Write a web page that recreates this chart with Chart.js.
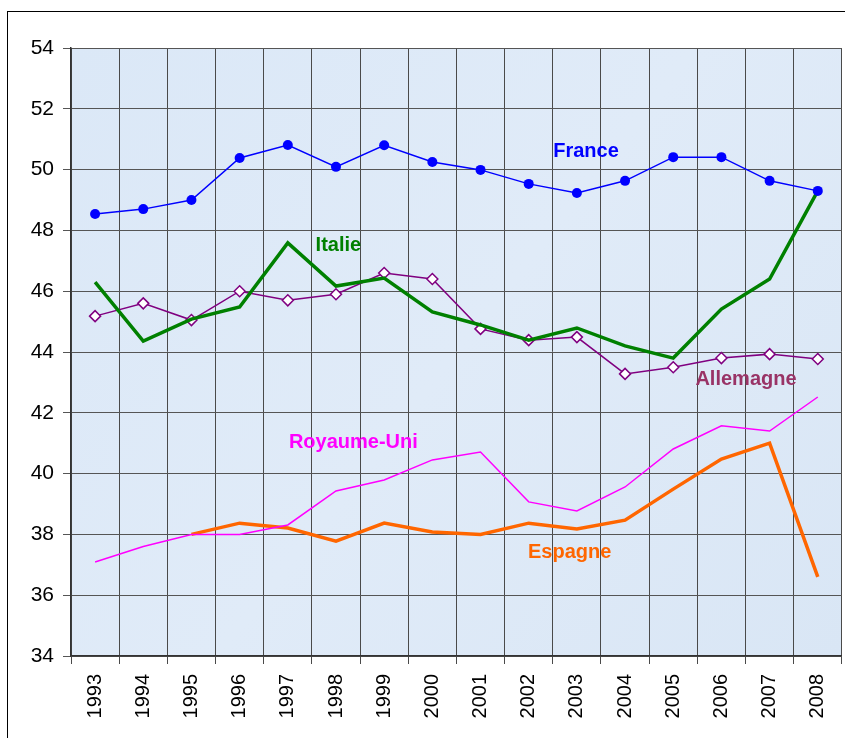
<!DOCTYPE html>
<html>
<head>
<meta charset="utf-8">
<script src="https://cdn.jsdelivr.net/npm/chart.js@4/dist/chart.umd.min.js"></script>
<style>
  html, body { margin: 0; padding: 0; background: #fff; overflow: hidden; }
  #frame { position: absolute; left: 7px; top: 11px; width: 900px; height: 800px; border: 1.5px solid #000; }
  #wrap { position: absolute; left: 0; top: 0; width: 845px; height: 738px; overflow: hidden; }
</style>
</head>
<body>
<div id="frame"></div>
<div id="wrap"><canvas id="chart" width="852" height="738"></canvas></div>
<script>
// ── DATA ──────────────────────────────────────────────
const years = ['1993', '1994', '1995', '1996', '1997', '1998', '1999', '2000',
               '2001', '2002', '2003', '2004', '2005', '2006', '2007', '2008'];

const france     = [48.54, 48.70, 49.00, 50.38, 50.81, 50.09, 50.80, 50.25, 49.99, 49.53, 49.23, 49.63, 50.41, 50.41, 49.63, 49.30];
const italie     = [46.30, 44.36, 45.08, 45.48, 47.59, 46.17, 46.43, 45.32, 44.89, 44.39, 44.79, 44.20, 43.80, 45.41, 46.40, 49.30];
const allemagne  = [45.18, 45.60, 45.05, 46.00, 45.70, 45.90, 46.60, 46.40, 44.76, 44.39, 44.49, 43.28, 43.50, 43.80, 43.93, 43.77];
const royaumeUni = [37.09, 37.60, 38.00, 38.00, 38.31, 39.43, 39.79, 40.45, 40.71, 39.07, 38.77, 39.56, 40.81, 41.57, 41.40, 42.52];
const espagne    = [null, null, 38.00, 38.37, 38.21, 37.78, 38.37, 38.08, 38.00, 38.37, 38.18, 38.47, 39.49, 40.48, 41.00, 36.60];

const yMin = 34, yMax = 54, yStep = 2;

// series labels written inside the plot (category index, value)
const seriesLabels = [
  { text: 'France',      x: 10.19, y: 50.58, color: '#0000ff' },
  { text: 'Italie',      x: 5.05,  y: 47.52, color: '#008000' },
  { text: 'Allemagne',   x: 13.51, y: 43.08, color: '#993366' },
  { text: 'Royaume-Uni', x: 5.36,  y: 41.01, color: '#ff00ff' },
  { text: 'Espagne',     x: 9.85,  y: 37.42, color: '#ff6600' }
];

const FONT = '"Liberation Sans", Arial, sans-serif';

// ── PLUGINS ───────────────────────────────────────────
const plotBackground = {
  id: 'plotBackground',
  beforeDraw(chart) {
    const { ctx, chartArea: a } = chart;
    ctx.save();
    const g = ctx.createLinearGradient(a.left, a.top, a.right, a.bottom);
    g.addColorStop(0, '#dbe8f7');
    g.addColorStop(0.5, '#e0ebf8');
    g.addColorStop(1, '#d9e6f5');
    ctx.fillStyle = g;
    ctx.fillRect(a.left, a.top, a.right - a.left, a.bottom - a.top);
    ctx.restore();
  }
};

const inlineLabels = {
  id: 'inlineLabels',
  afterDatasetsDraw(chart) {
    const { ctx, scales } = chart;
    ctx.save();
    ctx.font = 'bold 20px ' + FONT;
    ctx.textAlign = 'center';
    ctx.textBaseline = 'middle';
    seriesLabels.forEach(l => {
      ctx.fillStyle = l.color;
      ctx.fillText(l.text, scales.x.getPixelForValue(l.x), scales.y.getPixelForValue(l.y));
    });
    ctx.restore();
  }
};

// ── CHART ─────────────────────────────────────────────
new Chart(document.getElementById('chart'), {
  type: 'line',
  data: {
    labels: years,
    datasets: [
      {
        label: 'France', data: france,
        borderColor: '#0000ff', borderWidth: 1.5,
        pointRadius: 5, pointBackgroundColor: '#0000ff', pointBorderColor: '#0000ff', pointBorderWidth: 0
      },
      {
        label: 'Italie', data: italie,
        borderColor: '#008000', borderWidth: 3.5, pointRadius: 0
      },
      {
        label: 'Allemagne', data: allemagne,
        borderColor: '#800080', borderWidth: 1.5,
        pointStyle: 'rectRot', pointRadius: 5.5,
        pointBackgroundColor: '#ffffff', pointBorderColor: '#800080', pointBorderWidth: 1.5
      },
      {
        label: 'Royaume-Uni', data: royaumeUni,
        borderColor: '#ff00ff', borderWidth: 1.5, pointRadius: 0
      },
      {
        label: 'Espagne', data: espagne,
        borderColor: '#ff6600', borderWidth: 3.5, pointRadius: 0
      }
    ]
  },
  options: {
    responsive: false,
    animation: false,
    layout: { padding: { top: 48, right: 4, left: 0, bottom: 0 } },
    elements: { line: { tension: 0 } },
    plugins: {
      legend: { display: false },
      tooltip: { enabled: false }
    },
    scales: {
      x: {
        type: 'category',
        offset: true,
        afterFit: s => { s.height = 82; },
        grid: { offset: true, color: '#4a4a4a', lineWidth: 1, tickLength: 8, drawTicks: true },
        border: { color: '#333', width: 1.5 },
        ticks: {
          color: '#000', maxRotation: 90, minRotation: 90, padding: 10,
          font: { family: FONT, size: 20 }
        }
      },
      y: {
        min: yMin, max: yMax,
        afterFit: s => { s.width = 71; },
        grid: { color: '#555', lineWidth: 1, tickLength: 8 },
        border: { color: '#333', width: 1.5 },
        ticks: {
          stepSize: yStep, color: '#000', padding: 9,
          font: { family: FONT, size: 21 }
        }
      }
    }
  },
  plugins: [plotBackground, inlineLabels]
});
</script>
</body>
</html>
